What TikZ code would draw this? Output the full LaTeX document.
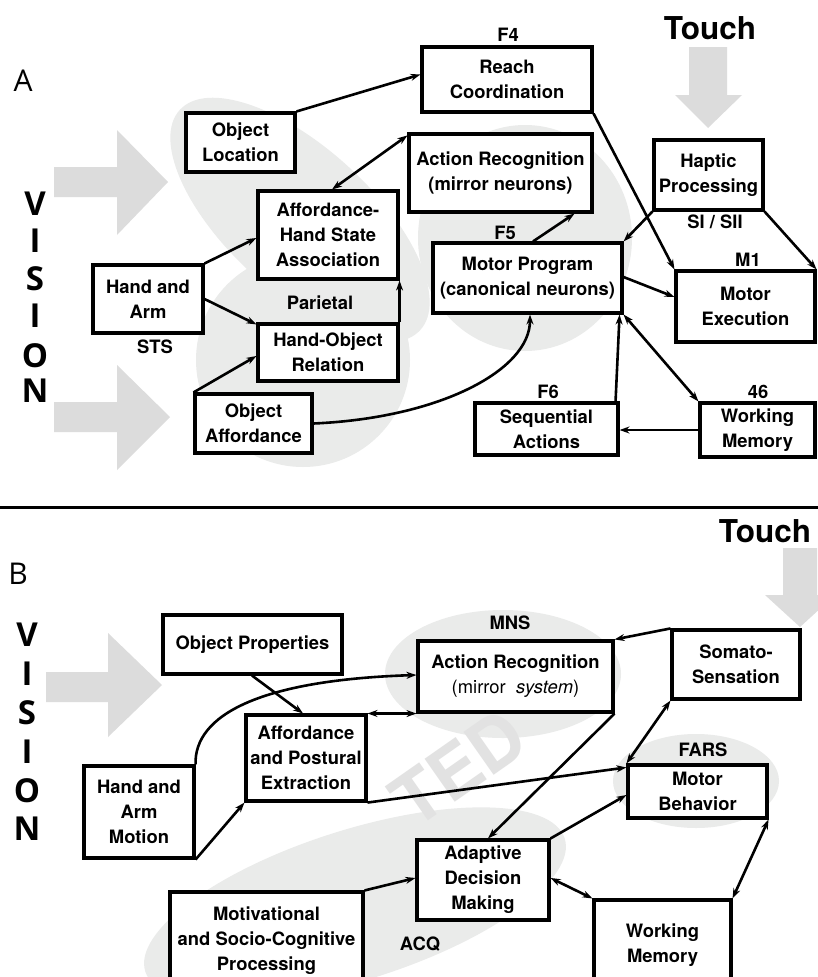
\documentclass[tikz,border=0pt]{standalone}
\usepackage{fontspec}
\setmainfont{TeX Gyre Heros}
\newfontfamily\osans{Open Sans}
\usetikzlibrary{arrows.meta,calc}
\definecolor{arrgray}{RGB}{220,220,220}
\definecolor{ellgray}{RGB}{234,235,234}
\definecolor{wmgray}{RGB}{226,226,226}
\tikzset{
  box/.style={draw, line width=3.1pt, fill=white, align=center, inner sep=0pt,
    font=\bfseries\fontsize{18.4}{25}\selectfont},
  wh/.style 2 args={minimum width=#1pt, minimum height=#2pt},
  lbl/.style={font=\bfseries\fontsize{18.4}{22}\selectfont, inner sep=0pt},
  big/.style={font=\bfseries\fontsize{31.5}{34}\selectfont, inner sep=0pt},
  vis/.style={font=\osans\bfseries\fontsize{33}{35}\selectfont, inner sep=0pt},
  panel/.style={font=\osans\fontsize{30}{32}\selectfont, inner sep=0pt},
  conn/.style={line width=2.6pt, -{Stealth[length=10pt,width=7pt]}},
  dconn/.style={line width=2.6pt, {Stealth[length=10pt,width=7pt]}-{Stealth[length=10pt,width=7pt]}},
  garrow/.style={fill=arrgray, draw=none},
  gell/.style={fill=ellgray, draw=none}
}
\begin{document}
\begin{tikzpicture}[x=1pt,y=-1pt]
\useasboundingbox (0,0) rectangle (818,977);
\fill[white] (0,0) rectangle (818,977);
\clip (0,0) rectangle (818,977);

% ---------------- Panel A backgrounds ----------------
\fill[gell, rotate around={-42.5:(300,220)}] (300,220) ellipse [x radius=163, y radius=72];
\fill[gell] (303,360) circle [radius=107];
\fill[gell] (525,238) ellipse [x radius=107, y radius=113];

% big gray arrows A
\fill[garrow] (54,167) -- (117,167) -- (117,130) -- (168,182) -- (117,235) -- (117,197) -- (54,197) -- cycle;
\fill[garrow] (54,402) -- (117,402) -- (117,365) -- (170,417) -- (117,470) -- (117,432) -- (54,432) -- cycle;
\fill[garrow] (689,47) -- (727,47) -- (727,95) -- (742,95) -- (708,128) -- (675,95) -- (689,95) -- cycle;

% labels A
\node[panel] (labA) at (23,81) {A};
\node[big] (touchA) at (710,28) {Touch};
\node[vis] (va1) at (35,204) {V};
\node[vis] (va2) at (35,241) {I};
\node[vis] (va3) at (35,279) {S};
\node[vis] (va4) at (35,316) {I};
\node[vis] (va5) at (35,356) {O};
\node[vis] (va6) at (35,391) {N};

% boxes A
\node[box, wh={109}{59}] (loc) at (240.5,142.5) {Object\\Location};
\node[box, wh={170}{65}] (reach) at (507,79.5) {Reach\\Coordination};
\node[box, wh={140}{88}] (ahsa) at (328,235) {Affordance-\\Hand State\\Association};
\node[box, wh={183}{78}] (actrec) at (500.5,173) {Action Recognition\\(mirror neurons)};
\node[box, wh={109}{70}] (haptic) at (708.5,175) {Haptic\\Processing};
\node[box, wh={189}{70}] (motprog) at (527.5,278) {Motor Program\\(canonical neurons)};
\node[box, wh={139}{71}] (motex) at (745.5,306.5) {Motor\\Execution};
\node[box, wh={110}{68}] (hand) at (148,299) {Hand and\\Arm};
\node[box, wh={140}{57}] (hor) at (328,352.5) {Hand-Object\\Relation};
\node[box, wh={117}{59}] (objaff) at (253.5,423.5) {Object\\Affordance};
\node[box, wh={143}{52}] (seq) at (546.5,429) {Sequential\\Actions};
\node[box, wh={115}{54}] (wm) at (757.5,430) {Working\\Memory};

\node[lbl] (f4) at (508,35) {F4};
\node[lbl] (f5) at (505,233) {F5};
\node[lbl] (si) at (715,222) {SI / SII};
\node[lbl] (m1) at (748,260) {M1};
\node[lbl] (n46) at (758,392) {46};
\node[lbl] (f6) at (548,392) {F6};
\node[lbl] (par) at (320,303) {Parietal};
\node[lbl] (sts) at (155,347) {STS};

% connectors A
\draw[conn] (loc.north east) -- ([yshift=5pt]reach.west);
\draw[dconn] ([xshift=4pt]ahsa.north) -- ([yshift=-3pt]actrec.north west);
\draw[conn] (hand.north east) -- ([yshift=-3pt]ahsa.west);
\draw[conn] (hand.east) -- ([yshift=-2pt]hor.north west);
\draw[conn] (objaff.north west) -- ([yshift=-3.5pt]hor.west);
\draw[conn] (hor.north east) -- (ahsa.south east);
\draw[conn] (objaff.east) .. controls (440,418) and (530,370) .. ([xshift=2.5pt]motprog.south);
\draw[conn] ([xshift=5.5pt]motprog.north) -- ([xshift=-19pt]actrec.south east);
\draw[conn] (reach.south east) -- (motex.north west);
\draw[conn] (haptic.south west) -- (motprog.north east);
\draw[conn] (haptic.south east) -- (motex.north east);
\draw[conn] ([yshift=1pt]motprog.east) -- ([yshift=9.5pt]motex.west);
\draw[conn] ([xshift=-4pt]seq.north east) -- ([xshift=-4pt]motprog.south east);
\draw[dconn] (motprog.south east) -- (wm.north west);
\draw[conn] (wm.west) -- (wm.west -| seq.east);

% separator
\draw[line width=3pt] (0,507) -- (818,507);

% ---------------- Panel B backgrounds ----------------
\fill[gell] (503,674) ellipse [x radius=118, y radius=64];
\fill[gell] (696,781) ellipse [x radius=83, y radius=47];
\fill[gell, rotate around={17.6:(355,905)}] (355,905) ellipse [x radius=220, y radius=75];
\node[font=\bfseries\fontsize{72}{72}\selectfont, text=wmgray, rotate=35, inner sep=0pt] (wmark) at (458,768) {TED};

\fill[garrow] (46,672) -- (108,672) -- (108,633) -- (162,685) -- (108,737) -- (108,702) -- (46,702) -- cycle;
\fill[garrow] (783,548) -- (817,548) -- (817,595) -- (835,595) -- (800,627) -- (765,595) -- (783,595) -- cycle;

\node[panel] (labB) at (18,574) {B};
\node[big] (touchB) at (765,531) {Touch};
\node[vis] (vb1) at (27,635) {V};
\node[vis] (vb2) at (27,674) {I};
\node[vis] (vb3) at (27,713) {S};
\node[vis] (vb4) at (27,752) {I};
\node[vis] (vb5) at (27,791) {O};
\node[vis] (vb6) at (27,829) {N};

% boxes B
\node[box, wh={179}{59}] (objprop) at (252.5,644.5) {Object Properties};
\node[box, wh={195}{71}] (actrecB) at (515.5,676.5) {Action Recognition\\{\mdseries (mirror~~\textit{system})}};
\node[box, wh={128}{69}] (somato) at (736,664.5) {Somato-\\Sensation};
\node[box, wh={120}{86}] (affB) at (306,758) {Affordance\\and Postural\\Extraction};
\node[box, wh={110}{92}] (handB) at (139,812) {Hand and\\Arm\\Motion};
\node[box, wh={139}{53}] (motbeh) at (697.5,791.5) {Motor\\Behavior};
\node[box, wh={132}{80}] (adm) at (483,880) {Adaptive\\Decision\\Making};
\node[box, wh={137}{90}] (wmB) at (662.5,945) {Working\\Memory};
\node[box, wh={193}{98}] (motiv) at (266.5,941) {Motivational\\and Socio-Cognitive\\Processing};

\node[lbl] (mns) at (510,623) {MNS};
\node[lbl] (fars) at (703,750) {FARS};
\node[lbl] (acq) at (420,944) {ACQ};

% connectors B
\draw[conn] ([xshift=-0.5pt]objprop.south) -- ([xshift=-3pt]affB.north);
\draw[conn] (handB.north east) .. controls (194,715) and (260,680) .. ([yshift=1.5pt]actrecB.west);
\draw[conn] (handB.south east) -- (affB.south west);
\draw[dconn] (affB.north east) -- (actrecB.south west);
\draw[conn] (affB.south east) -- ([yshift=-4pt]motbeh.north west);
\draw[conn] (actrecB.south east) -- ([xshift=5pt]adm.north);
\draw[conn] (somato.north west) -- (actrecB.north east);
\draw[dconn] (motbeh.north west) -- (somato.south west);
\draw[conn] (adm.north east) -- ([yshift=-3.5pt]motbeh.west);
\draw[dconn] ([yshift=2pt]adm.east) -- (wmB.north west);
\draw[dconn] (motbeh.south east) -- (wmB.north east);
\draw[conn] (motiv.north east) -- ([yshift=2pt]adm.west);
\end{tikzpicture}
\end{document}
